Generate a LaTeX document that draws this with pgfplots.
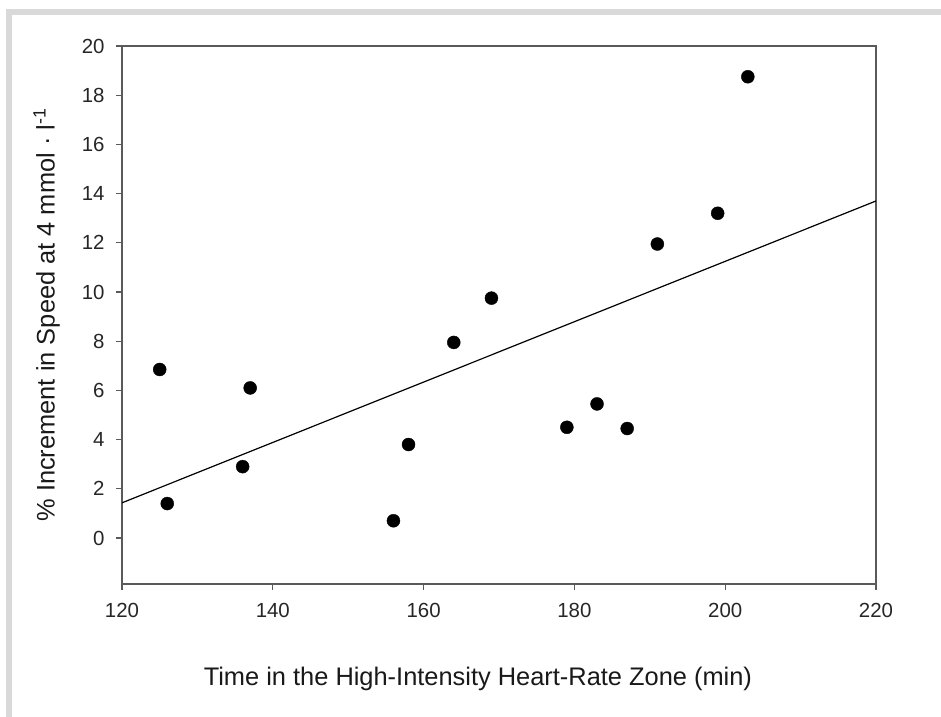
\documentclass[border=0pt]{standalone}
\usepackage{pgfplots}
\pgfplotsset{compat=1.18}
\usepackage{fontspec}
\setmainfont{Liberation Sans}
\definecolor{axisgray}{HTML}{5A5A5A}
\definecolor{framegray}{HTML}{D9D9D9}
\begin{document}
\begin{tikzpicture}[x=1bp,y=1bp]
\useasboundingbox (0,0) rectangle (941,717);
\draw[line width=6bp, framegray] (9,0) -- (9,705) -- (941,705);
\begin{axis}[
  at={(122bp,133bp)}, anchor=south west,
  scale only axis, width=754bp, height=538bp,
  xmin=120, xmax=220, ymin=-1.87, ymax=20,
  xtick={120,140,...,220}, ytick={0,2,...,20},
  xtick pos=bottom, ytick pos=left,
  tick align=outside, major tick length=6bp,
  axis line style={axisgray, line width=1.5bp},
  every tick/.style={axisgray, line width=1.2bp},
  /pgf/number format/assume math mode=true,
  ticklabel style={font=\fontsize{20.5}{24}\selectfont, text=black!85},
  xticklabel style={yshift=-10bp},
  yticklabel style={xshift=-8bp},
  xlabel={Time in the High-Intensity Heart-Rate Zone (min)},
  ylabel={\% Increment in Speed at 4 mmol · l\textsuperscript{-1}},
  label style={font=\fontsize{25.5}{30}\selectfont, text=black!90},
  xlabel style={at={(axis description cs:0.472,-0.176)}, anchor=center},
  ylabel style={at={(axis description cs:-0.1,0.5)}, anchor=center},
]
\addplot[only marks, mark=*, mark size=6.5bp, black] coordinates {
  (125,6.85) (126,1.4) (136,2.9) (137,6.1) (156,0.7) (158,3.8)
  (164,7.95) (169,9.75) (179,4.5) (183,5.45) (187,4.45) (191,11.95)
  (199,13.2) (203,18.75)
};
\addplot[black, line width=1.2bp] coordinates {(120,1.43) (220,13.7)};
\end{axis}
\end{tikzpicture}
\end{document}
